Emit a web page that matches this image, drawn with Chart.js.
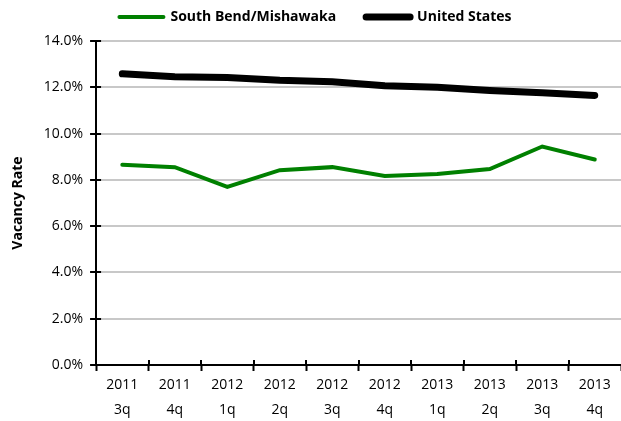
<!DOCTYPE html>
<html>
<head>
<meta charset="utf-8">
<script src="https://cdn.jsdelivr.net/npm/chart.js@4"></script>
<style>
  body { margin: 0; background: #fff; }
</style>
</head>
<body>
<canvas id="vacancyChart" width="621" height="421"></canvas>
<script>
// Vacancy rate: South Bend/Mishawaka vs United States
const quarters = [['2011', '3q'], ['2011', '4q'], ['2012', '1q'], ['2012', '2q'], ['2012', '3q'],
  ['2012', '4q'], ['2013', '1q'], ['2013', '2q'], ['2013', '3q'], ['2013', '4q']];
const southBend = [8.65, 8.55, 7.7, 8.42, 8.55, 8.17, 8.25, 8.47, 9.44, 8.88];
const unitedStates = [12.58, 12.46, 12.42, 12.3, 12.24, 12.07, 12.0, 11.86, 11.76, 11.65];
const yTicks = [0, 2, 4, 6, 8, 10, 12, 14];

const ctx = document.getElementById('vacancyChart').getContext('2d');

// x ticks in the original cross the axis line, draw the upper half here
const crossTicks = {
  id: 'crossTicks',
  afterDraw(chart) {
    const x = chart.scales.x;
    const y = chart.scales.y;
    const c = chart.ctx;
    c.save();
    c.strokeStyle = '#000';
    c.lineWidth = 2;
    c.beginPath();
    for (let i = 0; i < quarters.length; i++) {
      const px = Math.round(x.getPixelForValue(i - 0.5));
      c.moveTo(px, x.top - 5);
      c.lineTo(px, x.top);
    }
    for (const v of yTicks) {
      const py = Math.round(y.getPixelForValue(v));
      c.moveTo(y.right, py);
      c.lineTo(y.right + 5, py);
    }
    c.stroke();
    c.restore();
  }
};

// a bit more room between legend and plot
const legendGap = {
  id: 'legendGap',
  beforeInit(chart) {
    const fit = chart.legend.fit;
    chart.legend.fit = function () {
      fit.bind(chart.legend)();
      this.height += 7;
    };
  }
};

new Chart(ctx, {
  type: 'line',
  data: {
    labels: quarters,
    datasets: [{
      label: 'South Bend/Mishawaka',
      data: southBend,
      borderColor: '#008000',
      backgroundColor: '#008000',
      borderWidth: 4,
      borderCapStyle: 'round',
      pointRadius: 0,
      tension: 0
    }, {
      label: 'United States',
      data: unitedStates,
      borderColor: '#000',
      backgroundColor: '#000',
      borderWidth: 7,
      borderCapStyle: 'round',
      pointRadius: 0,
      tension: 0
    }]
  },
  options: {
    responsive: false,
    animation: false,
    layout: { padding: { left: 10, right: 0, top: -20, bottom: -3 } },
    plugins: {
      legend: {
        labels: {
          usePointStyle: true,
          pointStyle: 'line',
          pointStyleWidth: 44,
          padding: 30,
          color: '#000',
          font: { family: 'Open Sans', size: 14, weight: 'bold' },
          generateLabels(chart) {
            return chart.data.datasets.map((ds, i) => ({
              text: ds.label,
              fillStyle: ds.borderColor,
              strokeStyle: ds.borderColor,
              lineWidth: ds.borderWidth,
              lineCap: 'round',
              pointStyle: 'line',
              datasetIndex: i,
              fontColor: '#000'
            }));
          }
        }
      },
      tooltip: { enabled: false }
    },
    scales: {
      x: {
        offset: true,
        border: { color: '#000', width: 2 },
        grid: { drawOnChartArea: false, offset: true, tickLength: 6, tickColor: '#000', tickWidth: 2 },
        ticks: {
          color: '#000',
          maxRotation: 0,
          padding: 2,
          font: { family: 'Open Sans', size: 14, lineHeight: 1.75 }
        }
      },
      y: {
        min: 0,
        max: 14,
        border: { color: '#000', width: 2 },
        grid: { color: '#c8c8c8', lineWidth: 2, tickLength: 6, tickColor: '#000', tickWidth: 2 },
        ticks: {
          stepSize: 2,
          color: '#000',
          padding: 7,
          font: { family: 'Open Sans', size: 14 },
          callback: v => v.toFixed(1) + '%'
        },
        title: {
          display: true,
          text: 'Vacancy Rate',
          color: '#000',
          padding: { top: 0, bottom: 10 },
          font: { family: 'Open Sans', size: 14, weight: 'bold' }
        }
      }
    }
  },
  plugins: [crossTicks, legendGap]
});
</script>
</body>
</html>
